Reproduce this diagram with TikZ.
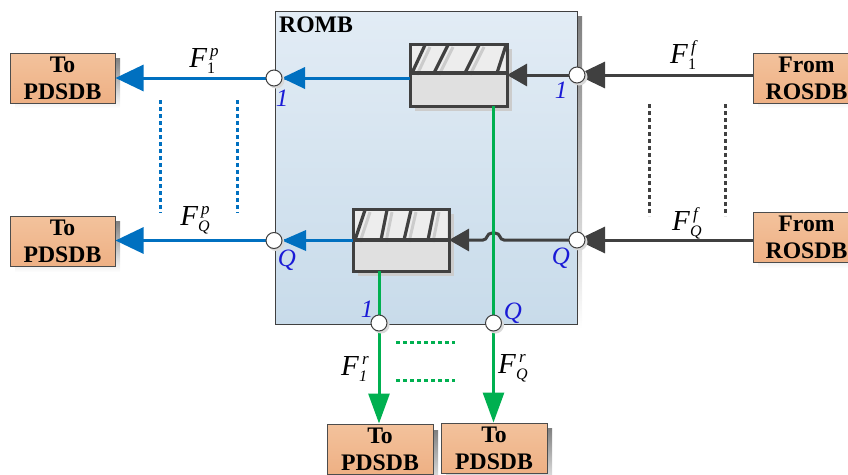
\documentclass[tikz,border=0pt]{standalone}
\usepackage{fontspec}
\setmainfont{Liberation Serif}
\usetikzlibrary{arrows.meta,calc}
\definecolor{bluel}{HTML}{0070C0}
\definecolor{greenl}{HTML}{00B050}
\definecolor{darkl}{HTML}{404040}
\definecolor{lab}{HTML}{1A1AD6}
\definecolor{shade}{HTML}{E6E6E6}
\newcommand{\flabel}[3]{\textit{F}\rlap{\raisebox{-6pt}{\fontsize{16}{16}\selectfont #2}}\hspace{3pt}\raisebox{11pt}{\fontsize{17}{17}\selectfont\textit{#3}}}
\tikzset{
  x=1pt,y=-1pt,
  dbbox/.style={draw=black!70,line width=1pt,top color=tboxtop,bottom color=tboxbot,minimum width=105pt,minimum height=50pt,inner sep=0pt,align=center,font=\fontsize{23.7}{27}\selectfont\bfseries,text=black},
  port/.style={circle,draw=darkl,line width=1pt,fill=white,minimum size=16pt,inner sep=0pt},
  flow/.style={line width=3pt},
  tipl/.style={-{Triangle[length=28pt,width=26pt]}},
  tips/.style={-{Triangle[length=20pt,width=22pt]}},
  vdots/.style={line width=3pt,dash pattern=on 4pt off 3pt},
  idx/.style={text=lab,font=\fontsize{25}{25}\selectfont\itshape,inner sep=0pt},
  flab/.style={font=\fontsize{29}{29}\selectfont,inner sep=0pt,text=black},
  qbar/.style={line width=3.2pt,draw=darkl},
  qshad/.style={line width=3pt,draw=black!20},
}
\definecolor{tboxtop}{HTML}{F3C29C}
\definecolor{tboxbot}{HTML}{EEB084}
\begin{document}
\begin{tikzpicture}
\useasboundingbox (0,0) rectangle (848,474);
% shadows of the boxes
\foreach \a/\b/\c/\d in {10/53/115/103,10/216/115/267,753/53/860/103,753/212/860/263,327/425/433/490,441/423/547/490,275/11/577/324}
  \fill[shade] (\a+5,\b+5) rectangle (\c+5,\d+5);
% ROMB block
\node[draw=darkl,line width=1pt,top color={rgb,255:red,226;green,236;blue,245},bottom color={rgb,255:red,200;green,219;blue,234},minimum width=302pt,minimum height=313pt,inner sep=0pt] (romb) at (426,167.5) {};
\node[font=\fontsize{23.7}{24}\selectfont\bfseries,inner sep=0pt] (rombt) at (316,25) {ROMB};
% terminal boxes
\node[dbbox] (to1) at (62.5,78) {To\\PDSDB};
\node[dbbox] (to2) at (62.5,241.5) {To\\PDSDB};
\node[dbbox,minimum width=107pt] (from1) at (806.5,78) {From\\ROSDB};
\node[dbbox,minimum width=107pt] (from2) at (806.5,237.5) {From\\ROSDB};
\node[dbbox,minimum width=106pt] (to3) at (380,449) {To\\PDSDB};
\node[dbbox,minimum width=106pt] (to4) at (494,448) {To\\PDSDB};
% queue 1
\fill[black!20] (415,49) rectangle (512,111);
\node[draw=darkl,line width=3pt,top color=white!88!black,bottom color=white!88!black,minimum width=97pt,minimum height=62pt,inner sep=0pt] (q1) at (458.5,75) {};
\fill[white!93!black] (412,46) rectangle (505,72);
\foreach \a/\b in {417/430,439/453,470/484} \draw[qshad] (\a,75)--(\b,47);
\foreach \a/\b in {412/425,434/448,465/479,497/506} \draw[qbar] (\a,73)--(\b,45);
\draw[qbar] (410,73)--(507,73);
% queue 2
\fill[black!20] (358,214) rectangle (454,276);
\node[draw=darkl,line width=3pt,top color=white!88!black,bottom color=white!88!black,minimum width=96pt,minimum height=62pt,inner sep=0pt] (q2) at (401,240) {};
\fill[white!93!black] (355,211) rectangle (447,239);
\foreach \a/\b in {360/370,386/392,409/416,433/439} \draw[qshad] (\a,242)--(\b,212);
\foreach \a/\b in {355/365,381/387,404/411,428/434} \draw[qbar] (\a,240)--(\b,210);
\draw[qbar] (353,240)--(449,240);
% ports
\coordinate (q1w) at (410,78);
\coordinate (q1e) at (507,75);
\coordinate (q1s) at (493.5,106);
\coordinate (q2w) at (353,240.5);
\coordinate (q2e) at (449,240);
\coordinate (q2s) at (379,271);
\coordinate (p1w) at (274,78);
\coordinate (p2w) at (274,240.5);
\coordinate (p1e) at (577,75);
\coordinate (p2e) at (577,240);
\coordinate (ps1) at (379,323);
\coordinate (ps2) at (493.5,323);
% connectors
\draw[flow,bluel,tipl] (p1w) -- (to1.east|-p1w);
\draw[flow,bluel,tipl] (p2w) -- (to2.east|-p2w);
\draw[flow,bluel] (q1w) -- (p1w);
\draw[flow,bluel] (q2w) -- (p2w);
\fill[bluel] (282,78) -- (305,67) -- (305,89) -- cycle;
\fill[bluel] (282,240.5) -- (306,230) -- (306,251) -- cycle;
\draw[flow,darkl,tipl] (from1.west|-p1e) -- (p1e);
\draw[flow,darkl,tipl] (from2.west|-p2e) -- (p2e);
\draw[flow,darkl,tips] (p1e) -- (q1e);
\draw[flow,darkl,tips] (p2e) -- (504,240) .. controls (499,240) and (501,233) .. (495,233) -- (492,233) .. controls (486,233) and (488,240) .. (483,240) -- (q2e);
\draw[flow,greenl] (q1s) -- (ps2);
\draw[flow,greenl] (q2s) -- (ps1);
\draw[flow,greenl,-{Triangle[length=30pt,width=21pt]}] (ps1) -- (to3.north-|ps1);
\draw[flow,greenl,-{Triangle[length=30pt,width=21pt]}] (ps2) -- (to4.north-|ps2);
% port circles
\foreach \n/\c in {a/p1w,b/p2w,c/p1e,d/p2e,e/ps1,f/ps2}{
  \fill[black!15] ($(\c)+(2,2)$) circle (8.5pt);
  \node[port] (port\n) at (\c) {};
}
% dotted parallel marks
\coordinate (b1t) at (160,100); \coordinate (b1b) at (160,213);
\coordinate (b2t) at (237,100); \coordinate (b2b) at (237,213);
\coordinate (d1t) at (649,104); \coordinate (d1b) at (649,216);
\coordinate (d2t) at (725,104); \coordinate (d2b) at (725,216);
\coordinate (g1l) at (396,342); \coordinate (g1r) at (455,342);
\coordinate (g2l) at (396,380); \coordinate (g2r) at (455,380);
\draw[vdots,bluel] (b1t)--(b1b);
\draw[vdots,bluel] (b2t)--(b2b);
\draw[vdots,darkl] (d1t)--(d1b);
\draw[vdots,darkl] (d2t)--(d2b);
\draw[vdots,greenl] (g1l)--(g1r);
\draw[vdots,greenl] (g2l)--(g2r);
% index labels
\node[idx] (i1) at (282,98) {1};
\node[idx] (i2) at (561,90) {1};
\node[idx] (i3) at (287,260) {Q};
\node[idx] (i4) at (561,258) {Q};
\node[idx] (i5) at (367,309) {1};
\node[idx] (i6) at (513,313) {Q};
% flow labels
\node[flab] (f1) at (204,61) {\flabel{F}{1}{p}};
\node[flab] (f2) at (195,220) {\flabel{F}{\textit{Q}}{p}};
\node[flab] (f3) at (684,55) {\flabel{F}{1}{f}};
\node[flab] (f4) at (686,223) {\flabel{F}{\textit{Q}}{f}};
\node[flab] (f5) at (355,369) {\flabel{F}{\textit{1}}{r}};
\node[flab] (f6) at (512,368) {\flabel{F}{\textit{Q}}{r}};
\end{tikzpicture}
\end{document}
